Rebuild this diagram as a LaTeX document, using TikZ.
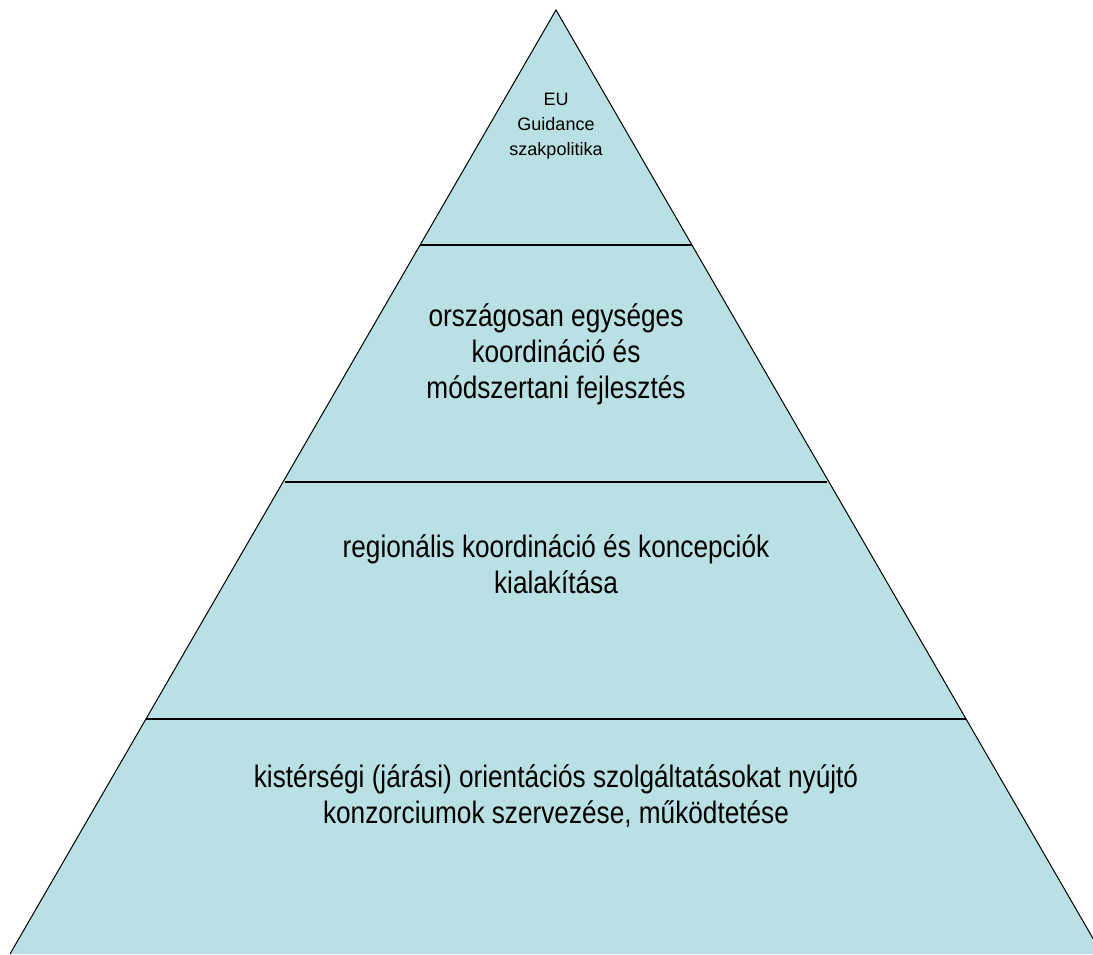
\documentclass[tikz,border=0pt]{standalone}
\usepackage{fontspec}
\setmainfont{Liberation Sans}
\newfontfamily\condsans{Liberation Sans}[FakeStretch=0.845]
\definecolor{pyrfill}{RGB}{185,224,227}
\begin{document}
\begin{tikzpicture}[x=1pt,y=-1pt,
  band/.style={line width=2pt,draw=black},
  small/.style={align=center,font=\fontsize{18}{25}\selectfont},
  big/.style={align=center,font=\condsans\fontsize{31}{36}\selectfont}]
\useasboundingbox (0,0) rectangle (1093,954);
\clip (0,0) rectangle (1093,954);
\coordinate (apex) at (556,10);
\coordinate (bl) at (10,954);
\coordinate (br) at (1102,954);
\fill[pyrfill] (apex) -- (bl) -- (br) -- cycle;
\draw[line width=1pt] (bl) -- (apex) -- (br);
\coordinate (l1) at (420,245); \coordinate (r1) at (692,245);
\coordinate (l2) at (285,482); \coordinate (r2) at (827,482);
\coordinate (l3) at (146,719); \coordinate (r3) at (966,719);
\draw[band] (l1) -- (r1);
\draw[band] (l2) -- (r2);
\draw[band] (l3) -- (r3);
\node[small] (t1) at (556,126) {EU\\Guidance\\szakpolitika};
\node[big] (t2) at (556,354) {országosan egységes\\koordináció és\\módszertani fejlesztés};
\node[big] (t3) at (556,564) {regionális koordináció és koncepciók\\kialakítása};
\node[big] (t4) at (556,796) {kistérségi (járási) orientációs szolgáltatásokat nyújtó\\konzorciumok szervezése, működtetése};
\end{tikzpicture}
\end{document}
